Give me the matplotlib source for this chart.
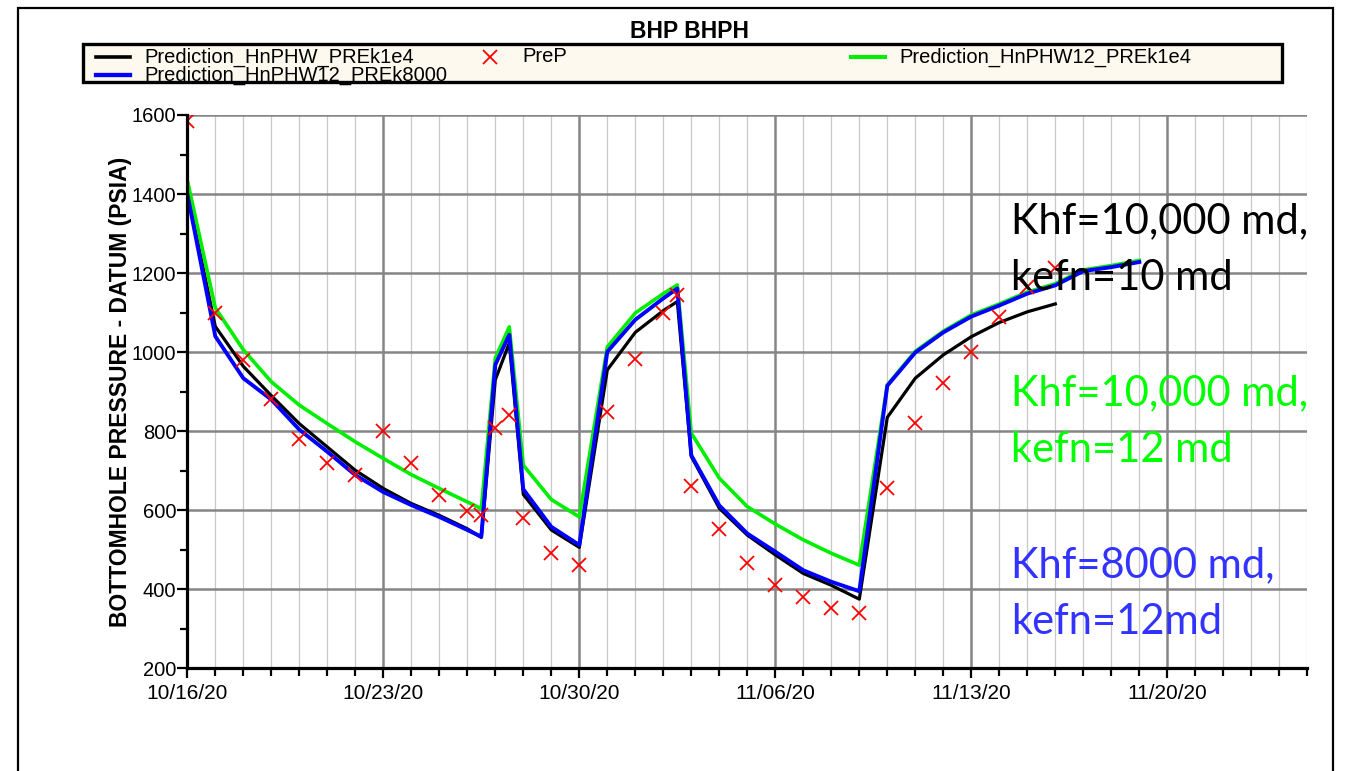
import matplotlib
matplotlib.use("Agg")
import matplotlib.pyplot as plt
from matplotlib.patches import Rectangle
from matplotlib.lines import Line2D
import pandas as pd

W, H, DPI = 1347, 771, 100
START = pd.Timestamp("2020-10-16")

# Measured bottomhole pressure (days after 10/16/20, psia)
prep_days = [0, 1, 2, 3, 4, 5, 6, 7, 8, 9, 10, 10.5, 11, 11.5, 12, 13, 14, 15, 16, 17,
             17.5, 18, 19, 20, 21, 22, 23, 24, 25, 26, 27, 28, 29, 30, 31]
prep_psia = [1585, 1100, 980, 881, 779, 719, 688, 800, 719, 639, 597, 588, 807, 841, 580,
             491, 461, 849, 983, 1099, 1145, 661, 552, 466, 412, 381, 353, 341, 655, 820,
             921, 1001, 1090, 1166, 1213]

# Simulation: Khf=10,000 md, kefn=10 md
k1e4_days = [0, 1, 2, 3, 4, 5, 6, 7, 8, 9, 10, 10.5, 11, 11.5, 12, 13, 14, 15, 16, 17,
             17.5, 18, 19, 20, 21, 22, 23, 24, 25, 26, 27, 28, 29, 30, 31]
k1e4_psia = [1405, 1065, 964, 890, 819, 760, 701, 655, 617, 587, 553, 531, 930, 1023, 640,
             550, 506, 955, 1050, 1105, 1128, 736, 605, 537, 487, 440, 410, 375, 835, 934,
             993, 1039, 1075, 1102, 1122]

# Simulation: Khf=8000 md, kefn=12 md
k8000_days = [0, 1, 2, 3, 4, 5, 6, 7, 8, 9, 10, 10.5, 11, 11.5, 12, 13, 14, 15, 16, 17,
              17.5, 18, 19, 20, 21, 22, 23, 24, 25, 26, 27, 28, 29, 30, 31, 32, 33, 34]
k8000_psia = [1400, 1040, 934, 880, 804, 748, 689, 646, 613, 583, 550, 533, 968, 1044, 653,
              558, 512, 1001, 1082, 1136, 1161, 739, 612, 541, 495, 448, 419, 395, 915, 999,
              1050, 1090, 1118, 1148, 1169, 1205, 1215, 1228]

# Simulation: Khf=10,000 md, kefn=12 md
w12_days = [0, 1, 2, 3, 4, 5, 6, 7, 8, 9, 10, 10.5, 11, 11.5, 12, 13, 14, 15, 16, 17,
            17.5, 18, 19, 20, 21, 22, 23, 24, 25, 26, 27, 28, 29, 30, 31, 32, 33, 34]
w12_psia = [1435, 1112, 1006, 925, 866, 819, 773, 731, 690, 655, 621, 604, 985, 1064, 714,
            627, 583, 1013, 1099, 1148, 1170, 795, 681, 609, 565, 525, 491, 461, 917, 1002,
            1053, 1094, 1122, 1152, 1173, 1208, 1219, 1232]

series_names = ["Prediction_HnPHW_PREk1e4", "Prediction_HnPHW12_PREk8000",
                "PreP", "Prediction_HnPHW12_PREk1e4"]
annotations = [("Khf=10,000 md,", "kefn=10 md", "black"),
               ("Khf=10,000 md,", "kefn=12 md", "#00ff00"),
               ("Khf=8000 md,", "kefn=12md", "#3333ff")]

y_ticks = list(range(200, 1601, 200))
week_ticks = pd.date_range("2020-10-16", "2020-11-20", freq="7D")
day_ticks = pd.date_range("2020-10-16", "2020-11-25", freq="D")


def to_dates(days):
    return START + pd.to_timedelta(days, unit="D")


def fx(px):
    return px / W


def fy(py):
    return 1 - py / H


SANS = ["Liberation Sans", "DejaVu Sans"]
plt.rcParams["font.family"] = SANS

fig = plt.figure(figsize=(W / DPI, H / DPI), dpi=DPI, facecolor="white")

ax = fig.add_axes([fx(187.3), fy(668.3), (1307.3 - 187.3) / W, (668.3 - 115) / H])
ax.set_facecolor("white")

l_black, = ax.plot(to_dates(k1e4_days), k1e4_psia, color="black", lw=2.3, zorder=3)
l_green, = ax.plot(to_dates(w12_days), w12_psia, color="#00ee00", lw=2.6, zorder=3)
l_blue, = ax.plot(to_dates(k8000_days), k8000_psia, color="#0000ff", lw=2.8, zorder=4)
l_prep, = ax.plot(to_dates(prep_days), prep_psia, ls="none", marker="x", color="#ff0000",
                  ms=10, mew=1.3, zorder=5)

ax.set_xlim(START, START + pd.Timedelta(days=40))
ax.set_ylim(200, 1600)
ax.set_xticks(week_ticks)
ax.set_xticklabels([d.strftime("%m/%d/%y") for d in week_ticks])
ax.set_xticks(day_ticks, minor=True)
ax.set_yticks(y_ticks)
ax.set_yticks(range(200, 1601, 100), minor=True)

ax.grid(which="major", axis="both", color="#858585", lw=1.8, zorder=0)
ax.grid(which="minor", axis="x", color="#c8c8c8", lw=0.9, zorder=0)
ax.set_axisbelow(True)

for side in ("top", "right"):
    ax.spines[side].set_visible(False)
for side in ("left", "bottom"):
    ax.spines[side].set_linewidth(2.3)
    ax.spines[side].set_color("black")
    ax.spines[side].set_zorder(6)

ax.tick_params(axis="y", which="major", length=7, width=1.6, direction="out", pad=1,
               labelsize=14.5)
ax.tick_params(axis="y", which="minor", length=5, width=1.6, direction="out")
ax.tick_params(axis="x", which="major", length=7, width=1.6, direction="out", pad=4,
               labelsize=15)
ax.tick_params(axis="x", which="minor", length=6, width=1.6, direction="out")

# Axis title and chart title
fig.text(fx(121), fy(392), "BOTTOMHOLE PRESSURE - DATUM (PSIA)", rotation=90,
         ha="center", va="center", fontsize=16.5, fontweight="bold")
fig.text(fx(690), fy(31), "BHP BHPH", ha="center", va="center", fontsize=16.5,
         fontweight="bold")

# Legend panel
fig.patches.append(Rectangle((fx(83), fy(82)), fx(1282) - fx(83), fy(44) - fy(82),
                             transform=fig.transFigure, facecolor="#fdf9ee",
                             edgecolor="none", zorder=1))
fig.patches.append(Rectangle((fx(83), fy(82)), fx(1282) - fx(83), fy(44) - fy(82),
                             transform=fig.transFigure, facecolor="none",
                             edgecolor="black", lw=2.4, zorder=10))

legend_items = [
    (l_black, series_names[0], 96, 57),
    (l_blue, series_names[1], 96, 75),
    (l_green, series_names[3], 851, 57),
]
for line, name, x0, yrow in legend_items:
    fig.add_artist(Line2D([fx(x0), fx(x0 + 34)], [fy(yrow), fy(yrow)],
                          transform=fig.transFigure, color=line.get_color(),
                          lw=line.get_linewidth() + 0.3, zorder=2))
    fig.text(fx(x0 + 48), fy(yrow), name, ha="left", va="center", fontsize=14.5, zorder=2)

fig.add_artist(Line2D([fx(490)], [fy(57)], transform=fig.transFigure, ls="none",
                      marker=l_prep.get_marker(), color=l_prep.get_color(),
                      ms=l_prep.get_markersize(), mew=l_prep.get_markeredgewidth(),
                      zorder=2))
fig.text(fx(522), fy(57), series_names[2], ha="left", va="center", fontsize=14.5, zorder=2)

# Case descriptions
ann_base = [233, 405, 577]
for (l1, l2, col), yb in zip(annotations, ann_base):
    fig.text(fx(1011), fy(yb), l1, ha="left", va="baseline", color=col,
             fontsize=30, family=["Lato", "DejaVu Sans"], zorder=20)
    fig.text(fx(1011), fy(yb + 57), l2, ha="left", va="baseline", color=col,
             fontsize=30, family=["Lato", "DejaVu Sans"], zorder=20)

# Outer frame
fig.patches.append(Rectangle((fx(18), -0.1), fx(1333) - fx(18), fy(8) + 0.1,
                             transform=fig.transFigure, facecolor="none",
                             edgecolor="black", lw=1.6, zorder=30, clip_on=False))

fig.savefig("out.png", dpi=DPI, facecolor="white")
